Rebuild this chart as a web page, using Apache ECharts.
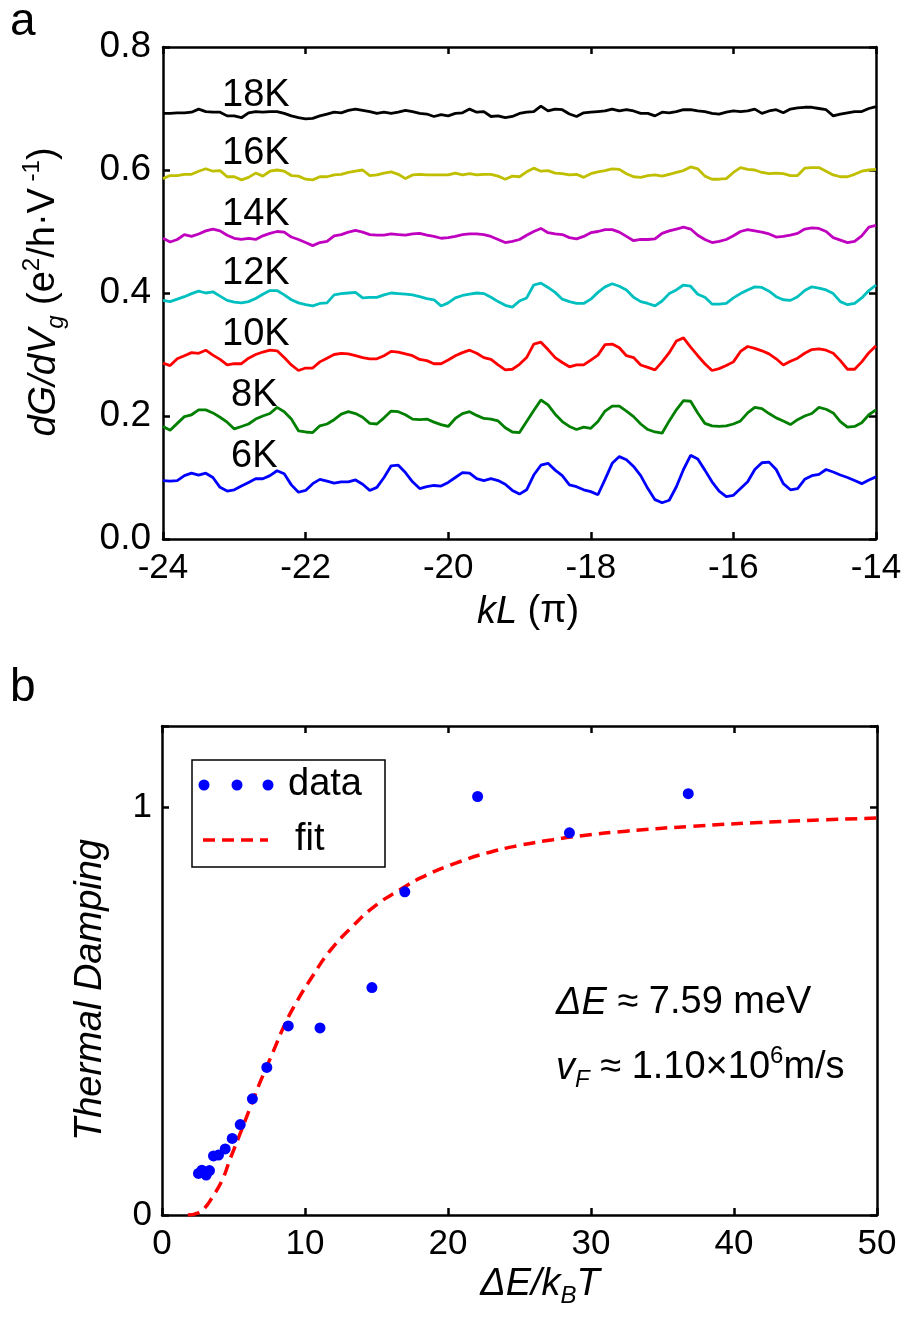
<!DOCTYPE html>
<html><head><meta charset="utf-8">
<script src="https://cdn.jsdelivr.net/npm/echarts@6/dist/echarts.min.js"></script>
<style>html,body{margin:0;padding:0;background:#fff}#c{width:908px;height:1318px}</style>
</head><body><div id="c"></div>
<script>
// ---------- Panel a data ----------
const kL = [-24,-23.9,-23.8,-23.7,-23.6,-23.5,-23.4,-23.3,-23.2,-23.1,
-23,-22.9,-22.8,-22.7,-22.6,-22.5,-22.4,-22.3,-22.2,-22.1,
-22,-21.9,-21.8,-21.7,-21.6,-21.5,-21.4,-21.3,-21.2,-21.1,
-21,-20.9,-20.8,-20.7,-20.6,-20.5,-20.4,-20.3,-20.2,-20.1,
-20,-19.9,-19.8,-19.7,-19.6,-19.5,-19.4,-19.3,-19.2,-19.1,
-19,-18.9,-18.8,-18.7,-18.6,-18.5,-18.4,-18.3,-18.2,-18.1,
-18,-17.9,-17.8,-17.7,-17.6,-17.5,-17.4,-17.3,-17.2,-17.1,
-17,-16.9,-16.8,-16.7,-16.6,-16.5,-16.4,-16.3,-16.2,-16.1,
-16,-15.9,-15.8,-15.7,-15.6,-15.5,-15.4,-15.3,-15.2,-15.1,
-15,-14.9,-14.8,-14.7,-14.6,-14.5,-14.4,-14.3,-14.2,-14.1,
-14];
const T18 = [.692,.692,.693,.693,.694,.699,.695,.694,.694,.688,
.688,.685,.693,.695,.694,.695,.695,.692,.688,.685,
.683,.684,.688,.691,.694,.693,.697,.699,.697,.695,
.692,.694,.692,.694,.697,.695,.692,.691,.687,.690,
.688,.692,.693,.699,.694,.695,.687,.688,.685,.687,
.692,.694,.695,.704,.696,.699,.698,.691,.687,.693,
.694,.695,.696,.699,.696,.698,.696,.692,.692,.688,
.694,.693,.695,.698,.698,.696,.695,.692,.691,.694,
.696,.695,.696,.699,.692,.696,.698,.693,.699,.701,
.702,.702,.700,.698,.688,.691,.693,.695,.695,.700,
.703];
const T16 = [.586,.591,.591,.593,.593,.598,.602,.598,.599,.589,
.589,.584,.588,.595,.590,.598,.600,.598,.591,.590,
.585,.584,.589,.589,.592,.593,.596,.598,.600,.591,
.592,.595,.597,.593,.586,.592,.593,.592,.592,.592,
.592,.595,.592,.594,.592,.593,.593,.590,.585,.590,
.589,.597,.603,.598,.599,.595,.594,.592,.593,.588,
.594,.597,.599,.602,.601,.594,.589,.588,.591,.592,
.590,.593,.596,.599,.605,.602,.590,.585,.585,.586,
.596,.604,.601,.600,.596,.594,.595,.594,.591,.591,
.603,.604,.604,.598,.592,.589,.589,.593,.598,.600,
.601];
const T14 = [.489,.483,.487,.495,.492,.496,.501,.504,.501,.494,
.489,.487,.489,.487,.493,.497,.500,.499,.491,.487,
.482,.477,.482,.484,.493,.495,.499,.502,.499,.495,
.494,.494,.496,.495,.494,.496,.497,.494,.492,.489,
.490,.492,.495,.496,.496,.495,.492,.487,.482,.484,
.487,.494,.500,.505,.498,.496,.495,.490,.488,.492,
.498,.500,.503,.503,.499,.492,.485,.487,.487,.488,
.497,.501,.504,.507,.504,.494,.487,.482,.484,.487,
.493,.500,.503,.501,.499,.496,.491,.492,.494,.497,
.504,.506,.505,.500,.490,.486,.482,.484,.493,.507,
.510];
const T12 = [.388,.386,.390,.394,.399,.403,.400,.402,.395,.388,
.385,.384,.386,.391,.398,.404,.404,.397,.389,.384,
.381,.379,.383,.384,.397,.399,.400,.401,.392,.393,
.393,.397,.400,.399,.398,.397,.394,.391,.389,.379,
.384,.392,.396,.398,.400,.399,.393,.386,.380,.377,
.387,.392,.413,.416,.409,.401,.390,.386,.383,.383,
.390,.401,.410,.415,.411,.405,.393,.386,.383,.379,
.387,.399,.405,.413,.411,.398,.393,.382,.382,.383,
.392,.399,.405,.410,.409,.403,.394,.389,.388,.394,
.404,.410,.408,.405,.399,.386,.381,.383,.392,.404,
.413];
const T10 = [.286,.282,.293,.298,.303,.302,.307,.299,.292,.283,
.285,.285,.294,.300,.304,.307,.306,.295,.283,.274,
.278,.278,.288,.294,.300,.302,.301,.298,.295,.293,
.293,.298,.305,.304,.301,.298,.292,.290,.285,.285,
.291,.298,.303,.307,.302,.295,.292,.283,.275,.276,
.284,.295,.317,.320,.308,.295,.287,.280,.283,.283,
.291,.299,.316,.317,.311,.298,.295,.283,.279,.275,
.288,.303,.322,.327,.312,.298,.285,.274,.277,.282,
.288,.305,.313,.310,.306,.301,.293,.283,.289,.294,
.302,.308,.309,.307,.302,.290,.276,.276,.288,.303,
.314];
const T8 = [.183,.177,.188,.199,.202,.210,.210,.205,.198,.190,
.179,.183,.187,.195,.200,.204,.214,.207,.195,.176,
.174,.173,.184,.187,.194,.203,.207,.204,.198,.188,
.187,.197,.208,.207,.202,.195,.194,.195,.190,.186,
.183,.196,.204,.207,.201,.196,.195,.192,.181,.174,
.173,.191,.209,.226,.218,.203,.191,.183,.178,.182,
.180,.191,.208,.216,.216,.208,.199,.187,.178,.174,
.172,.192,.210,.225,.224,.205,.188,.184,.183,.184,
.187,.192,.205,.214,.212,.204,.197,.192,.186,.194,
.200,.204,.214,.211,.205,.191,.182,.183,.189,.202,
.210];
const T6 = [.095,.094,.095,.103,.107,.104,.107,.100,.084,.078,
.080,.086,.092,.098,.098,.103,.111,.106,.088,.076,
.079,.090,.097,.094,.091,.093,.093,.096,.089,.079,
.084,.100,.119,.120,.108,.093,.082,.085,.087,.086,
.092,.100,.108,.107,.098,.095,.098,.095,.089,.079,
.073,.080,.104,.120,.123,.112,.103,.088,.085,.080,
.077,.072,.097,.123,.134,.129,.118,.103,.082,.064,
.059,.063,.085,.113,.136,.130,.112,.093,.078,.069,
.071,.082,.093,.113,.124,.125,.113,.090,.080,.082,
.097,.103,.105,.113,.109,.104,.100,.095,.090,.096,
.101];
const tempNames = ['18K','16K','14K','12K','10K','8K','6K'];
const tempColors = ['#000000','#bfbf00','#bf00bf','#00bfbf','#ff0000','#007f00','#0000ff'];
const tempSeries = [T18, T16, T14, T12, T10, T8, T6];

// ---------- Panel b data ----------
const dampX = [2.55,2.79,3.09,3.32,3.60,3.95,4.42,4.91,5.47,6.32,7.33,8.83,11.05,14.68,16.98,22.07,28.49,36.80];
const dampY = [0.102,0.110,0.098,0.109,0.145,0.147,0.162,0.188,0.222,0.285,0.362,0.464,0.459,0.558,0.793,1.027,0.938,1.034];
const fitX = [1.8,2.44,3.0,3.49,4.19,4.77,5.58,6.16,6.86,7.79,8.49,9.3,10.58,11.74,13.26,14.77,16.63,18.49,20.59,22.68,25.0,27.33,29.19,32.45,37.1,41.75,46.4,50];
const fitY = [0,0.004,0.018,0.042,0.084,0.138,0.21,0.263,0.326,0.402,0.46,0.516,0.589,0.648,0.706,0.755,0.798,0.834,0.864,0.888,0.907,0.921,0.93,0.942,0.954,0.963,0.97,0.974];

// ---------- Chart ----------
const FF = '"Liberation Sans", Arial, Helvetica, sans-serif';
const chart = echarts.init(document.getElementById('c'), null, {renderer: 'canvas'});

function ax(extra) {
  return Object.assign({
    type: 'value',
    axisLine: {show: true, onZero: false, lineStyle: {color: '#000', width: 2.5}},
    axisTick: {show: true, inside: true, length: 7, lineStyle: {color: '#000', width: 2.5}},
    axisLabel: {show: true, color: '#000', fontSize: 35, fontFamily: FF},
    splitLine: {show: false}
  }, extra);
}
const noLab = {show: false};

const lineSeries = tempSeries.map((arr, k) => ({
  type: 'line', name: tempNames[k], xAxisIndex: 0, yAxisIndex: 0,
  data: kL.map((x, i) => [x, arr[i]]),
  showSymbol: false, symbol: 'none',
  lineStyle: {color: tempColors[k], width: 2.8},
  animation: false, z: 3
}));

const rich = {
  n: {fontSize: 38, fontFamily: FF, color: '#000', lineHeight: 48},
  i: {fontSize: 38, fontFamily: FF, fontStyle: 'italic', color: '#000', lineHeight: 48},
  sup: {fontSize: 24, fontFamily: FF, color: '#000', verticalAlign: 'top', lineHeight: 26},
  isub: {fontSize: 24, fontFamily: FF, fontStyle: 'italic', color: '#000', verticalAlign: 'bottom', lineHeight: 26}
};

function txt(x, y, text, opts) {
  opts = opts || {};
  return {
    type: 'text', x: x, y: y, rotation: opts.rotation || 0, z: 100,
    style: {
      text: text, rich: rich,
      fontSize: opts.fontSize || 38, fontFamily: FF,
      fontStyle: opts.italic ? 'italic' : 'normal',
      fill: '#000',
      align: opts.align || 'left', textAlign: opts.align || 'left',
      verticalAlign: 'middle', textVerticalAlign: 'middle'
    }
  };
}

const labelPos = [[222,96],[222,154],[222,215],[222,274],[222,335],[231,396],[231,457]];
const graphics = [];
tempNames.forEach((t, k) => graphics.push(txt(labelPos[k][0], labelPos[k][1], t, {fontSize: 38})));
graphics.push(txt(10, 22, 'a', {fontSize: 46}));
graphics.push(txt(10, 688, 'b', {fontSize: 46}));
graphics.push(txt(528, 612, '{i|kL} {n|(π)}', {align: 'center'}));
graphics.push(txt(44, 292, '{i|dG/dV}{isub|g}{n| (e}{sup|2}{n|/h·V}{sup| -1}{n|)}', {align: 'center', rotation: Math.PI / 2}));
graphics.push(txt(90, 990, 'Thermal Damping', {align: 'center', rotation: Math.PI / 2, italic: true, fontSize: 38}));
graphics.push(txt(540, 1284, '{i|ΔE/k}{isub|B}{i|T}', {align: 'center'}));
graphics.push(txt(556, 1003, '{i|ΔE}{n| ≈ 7.59 meV}'));
graphics.push(txt(556, 1068, '{i|v}{isub|F}{n| ≈ 1.10×10}{sup|6}{n|m/s}'));
// legend box
graphics.push({type: 'rect', z: 90, shape: {x: 192, y: 760, width: 193, height: 107}, style: {fill: '#fff', stroke: '#000', lineWidth: 1.5}});
[204, 237, 268].forEach(cx => graphics.push({type: 'circle', z: 95, shape: {cx: cx, cy: 785, r: 5.5}, style: {fill: '#0000ff'}}));
graphics.push({type: 'line', z: 95, shape: {x1: 203, y1: 840, x2: 268, y2: 840}, style: {stroke: '#ff0000', lineWidth: 3.5, lineDash: [12, 7]}});
graphics.push(txt(288, 785, 'data', {fontSize: 38}));
graphics.push(txt(295, 840, 'fit', {fontSize: 38}));

const option = {
  backgroundColor: '#fff',
  animation: false,
  grid: [
    {left: 163, top: 47, width: 713, height: 492, containLabel: false, outerBoundsMode: 'none'},
    {left: 162, top: 726, width: 715, height: 489, containLabel: false, outerBoundsMode: 'none'}
  ],
  xAxis: [
    ax({gridIndex: 0, min: -24, max: -14, interval: 2, position: 'bottom',
        axisLabel: {color: '#000', fontSize: 35, fontFamily: FF, margin: 12}}),
    ax({gridIndex: 0, min: -24, max: -14, interval: 2, position: 'top', axisLabel: noLab}),
    ax({gridIndex: 1, min: 0, max: 50, interval: 10, position: 'bottom',
        axisLabel: {color: '#000', fontSize: 35, fontFamily: FF, margin: 12}}),
    ax({gridIndex: 1, min: 0, max: 50, interval: 10, position: 'top', axisLabel: noLab})
  ],
  yAxis: [
    ax({gridIndex: 0, min: 0, max: 0.8, interval: 0.2, position: 'left',
        axisLabel: {color: '#000', fontSize: 37, fontFamily: FF, margin: 12, formatter: v => v.toFixed(1)}}),
    ax({gridIndex: 0, min: 0, max: 0.8, interval: 0.2, position: 'right', axisLabel: noLab}),
    ax({gridIndex: 1, min: 0, max: 1.2, interval: 1, position: 'left',
        axisLabel: {color: '#000', fontSize: 35, fontFamily: FF, margin: 10,
          formatter: v => (Math.abs(v) < 1e-9 ? '0' : (Math.abs(v - 1) < 1e-9 ? '1' : ''))}}),
    ax({gridIndex: 1, min: 0, max: 1.2, interval: 1, position: 'right', axisLabel: noLab})
  ],
  series: lineSeries.concat([
    {type: 'line', name: 'fit', xAxisIndex: 2, yAxisIndex: 2,
     data: fitX.map((x, i) => [x, fitY[i]]), smooth: 0.5, showSymbol: false, symbol: 'none',
     lineStyle: {color: '#ff0000', width: 3.5, type: [12, 7]}, z: 3, animation: false},
    {type: 'scatter', name: 'data', xAxisIndex: 2, yAxisIndex: 2,
     data: dampX.map((x, i) => [x, dampY[i]]), symbol: 'circle', symbolSize: 11,
     itemStyle: {color: '#0000ff', opacity: 1}, z: 4, animation: false}
  ]),
  graphic: graphics
};
chart.setOption(option);
</script>
</body></html>
